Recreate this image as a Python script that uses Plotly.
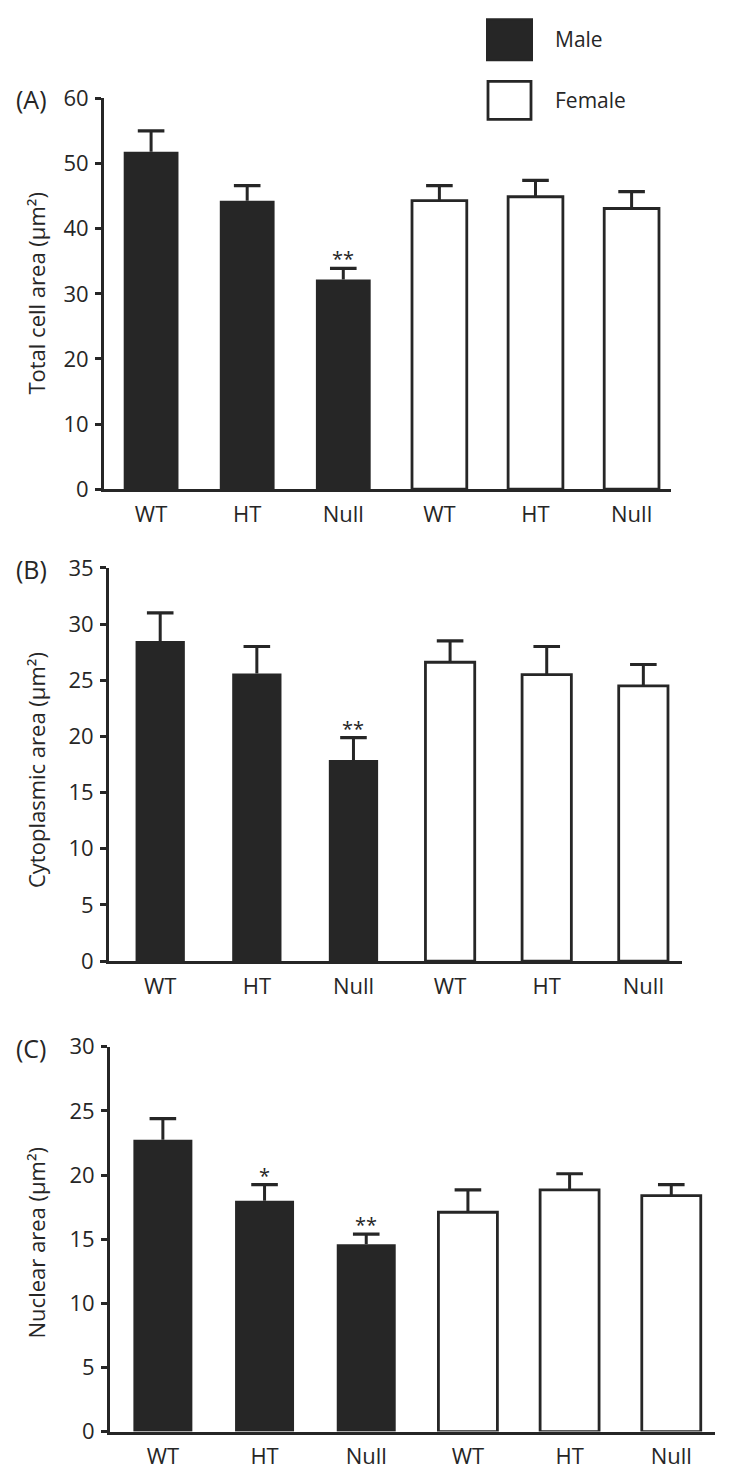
import plotly.graph_objects as go

# ---------------- data ----------------
categories = ["WT", "HT", "Null", "WT", "HT", "Null"]
groups = ["Male", "Female"]

total_male = [51.8, 44.3, 32.2]
total_male_err = [3.2, 2.3, 1.7]
total_female = [44.3, 44.9, 43.1]
total_female_err = [2.3, 2.5, 2.6]
total_sig = ["", "", "**"]

cyto_male = [28.5, 25.6, 17.9]
cyto_male_err = [2.5, 2.4, 2.0]
cyto_female = [26.6, 25.5, 24.5]
cyto_female_err = [1.9, 2.5, 1.9]
cyto_sig = ["", "", "**"]

nuc_male = [22.75, 18.0, 14.6]
nuc_male_err = [1.65, 1.25, 0.8]
nuc_female = [17.1, 18.85, 18.4]
nuc_female_err = [1.75, 1.25, 0.85]
nuc_sig = ["", "*", "**"]

panel_labels = ["(A)", "(B)", "(C)"]
y_titles = ["Total cell area (μm²)",
            "Cytoplasmic area (μm²)",
            "Nuclear area (μm²)"]
y_max = [60, 35, 30]
y_step = [10, 5, 5]

# ---------------- layout geometry (pixels) ----------------
W = 750
HF = 1493         # figure height
SY, OFF = 0.979, 15   # vertical calibration of the photographed page
INK = "#262626"
FONT = "Open Sans"

panels = [
    dict(x0=104, x1=671, ytop=97, ybot=487.5, xr=[-0.49, 5.41], bw=0.57,
         m=total_male, me=total_male_err, f=total_female, fe=total_female_err, sig=total_sig,
         title_y=292),
    dict(x0=109, x1=682, ytop=566, ybot=959, xr=[-0.53, 5.40], bw=0.51,
         m=cyto_male, me=cyto_male_err, f=cyto_female, fe=cyto_female_err, sig=cyto_sig,
         title_y=768),
    dict(x0=110, x1=715, ytop=1044.5, ybot=1429, xr=[-0.52, 5.43], bw=0.58,
         m=nuc_male, me=nuc_male_err, f=nuc_female, fe=nuc_female_err, sig=nuc_sig,
         title_y=1240),
]

def px_x(p):
    return p / W

def px_y(p):
    page = p / SY - OFF
    return 1 - page / HF

fig = go.Figure()
annotations = []
layout_axes = {}

male_x = [0, 1, 2]
female_x = [3, 4, 5]

for i, p in enumerate(panels):
    n = "" if i == 0 else str(i + 1)
    xa, ya = "x" + n, "y" + n
    fig.add_trace(go.Bar(
        x=male_x, y=p["m"], width=p["bw"], xaxis=xa, yaxis=ya, name=groups[0],
        marker=dict(color=INK, line=dict(color=INK, width=0)),
        showlegend=False,
    ))
    fig.add_trace(go.Bar(
        x=female_x, y=p["f"], width=p["bw"], xaxis=xa, yaxis=ya, name=groups[1],
        marker=dict(color="white", line=dict(color=INK, width=2.8)),
        showlegend=False,
    ))
    # upward-only error bars: stems + caps
    xs = male_x + female_x
    vals = p["m"] + p["f"]
    errs = p["me"] + p["fe"]
    stem_x, stem_y = [], []
    for xv, v, e in zip(xs, vals, errs):
        stem_x += [xv, xv, None]
        stem_y += [v, v + e, None]
    fig.add_trace(go.Scatter(
        x=stem_x, y=stem_y, xaxis=xa, yaxis=ya, mode="lines",
        line=dict(color=INK, width=3), hoverinfo="skip", showlegend=False,
    ))
    fig.add_trace(go.Scatter(
        x=xs, y=[v + e for v, e in zip(vals, errs)], xaxis=xa, yaxis=ya,
        mode="markers", marker=dict(symbol="line-ew", size=19,
                                    line=dict(color=INK, width=3.2)),
        hoverinfo="skip", showlegend=False,
    ))
    layout_axes["xaxis" + n] = dict(
        domain=[px_x(p["x0"]), px_x(p["x1"])], anchor=ya, range=p["xr"],
        tickmode="array", tickvals=list(range(6)), ticktext=categories,
        showline=True, linecolor=INK, linewidth=3, ticks="", showgrid=False,
        zeroline=False, tickfont=dict(family=FONT, size=22, color=INK),
        ticklabelstandoff=3,
    )
    layout_axes["yaxis" + n] = dict(
        domain=[px_y(p["ybot"]), px_y(p["ytop"])], anchor=xa, range=[0, y_max[i]],
        tickmode="linear", tick0=0, dtick=y_step[i],
        showline=True, linecolor=INK, linewidth=3, ticks="outside", ticklen=6,
        tickwidth=3, tickcolor=INK, showgrid=False, zeroline=False,
        tickfont=dict(family=FONT, size=22, color=INK), ticklabelstandoff=2,
    )
    for j in range(3):
        if p["sig"][j]:
            annotations.append(dict(
                x=male_x[j], y=p["m"][j] + p["me"][j], xref=xa, yref=ya,
                text=p["sig"][j], showarrow=False, yanchor="bottom", yshift=-6,
                font=dict(family=FONT, size=20, color=INK),
            ))
    annotations.append(dict(
        x=px_x(31), y=px_y(p["ytop"] + 1), xref="paper", yref="paper",
        text=panel_labels[i], showarrow=False, xanchor="center", yanchor="middle",
        font=dict(family=FONT, size=25, color=INK),
    ))
    annotations.append(dict(
        x=px_x(36), y=px_y(p["title_y"]), xref="paper", yref="paper",
        text=y_titles[i], showarrow=False, textangle=-90,
        xanchor="center", yanchor="middle",
        font=dict(family=FONT, size=22, color=INK),
    ))

shapes = [
    dict(type="rect", xref="paper", yref="paper",
         x0=px_x(487), x1=px_x(532), y0=px_y(59), y1=px_y(18),
         fillcolor=INK, line=dict(color=INK, width=2)),
    dict(type="rect", xref="paper", yref="paper",
         x0=px_x(488), x1=px_x(531), y0=px_y(118), y1=px_y(80),
         fillcolor="white", line=dict(color=INK, width=2.8)),
]
annotations.append(dict(x=px_x(553), y=px_y(38), xref="paper", yref="paper",
                        text=groups[0], showarrow=False, xanchor="left", yanchor="middle",
                        font=dict(family=FONT, size=21, color=INK)))
annotations.append(dict(x=px_x(553), y=px_y(99), xref="paper", yref="paper",
                        text=groups[1], showarrow=False, xanchor="left", yanchor="middle",
                        font=dict(family=FONT, size=21, color=INK)))

fig.update_layout(
    width=W, height=HF,
    margin=dict(l=0, r=0, t=0, b=0),
    paper_bgcolor="white", plot_bgcolor="white",
    barmode="overlay", showlegend=False,
    annotations=annotations, shapes=shapes,
    font=dict(family=FONT, color=INK),
    **layout_axes,
)

fig.write_html(
    "out.html",
    config={"displayModeBar": False},
    post_script="document.body.style.margin='0';document.body.style.padding='0';",
)
